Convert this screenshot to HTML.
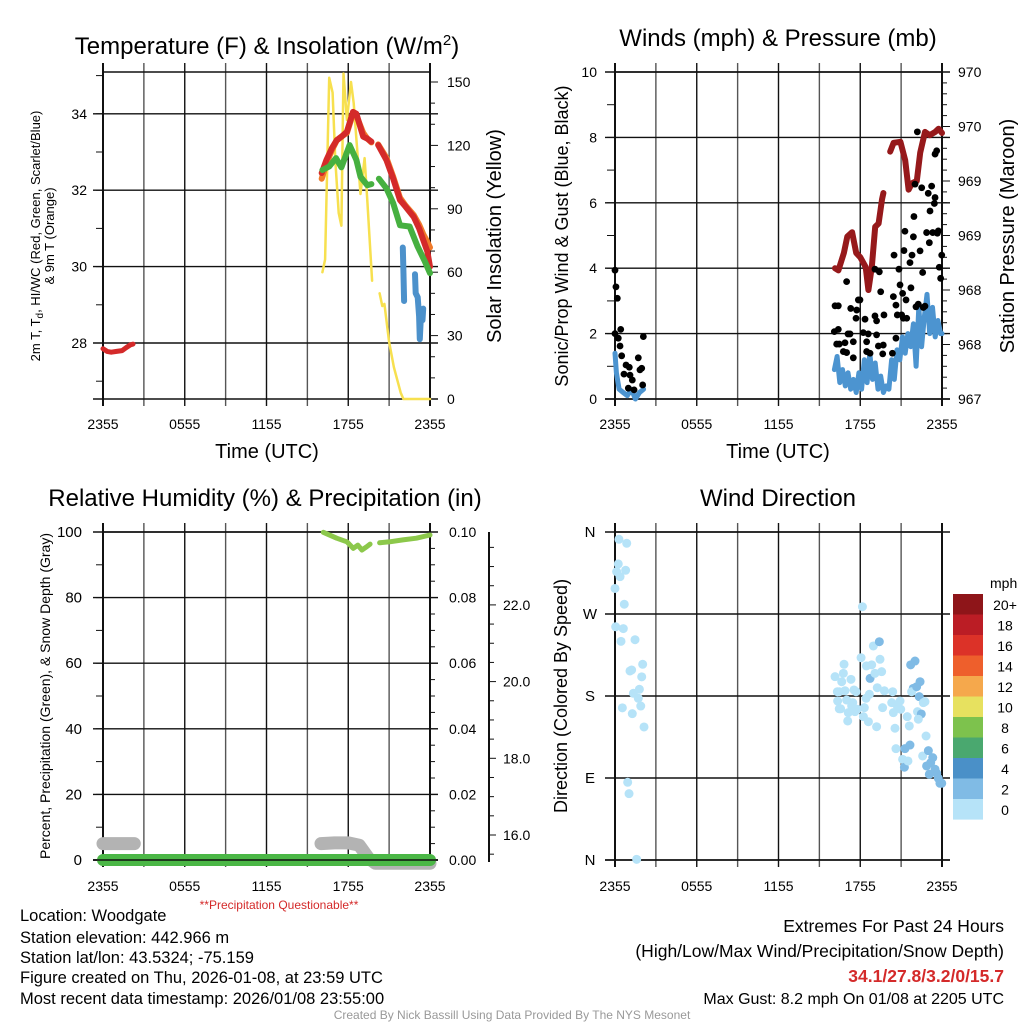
<!DOCTYPE html>
<html><head><meta charset="utf-8"><title>Station Meteogram</title>
<style>
html,body{margin:0;padding:0;background:#fff;}
svg{display:block;font-family:"Liberation Sans",sans-serif;}
</style></head>
<body>
<svg id="fig" width="1024" height="1024" viewBox="0 0 1024 1024" xmlns="http://www.w3.org/2000/svg">
<rect x="0" y="0" width="1024" height="1024" fill="#fff"/>
<!-- titles -->
<text x="267" y="54" font-size="24" text-anchor="middle">Temperature (F) &amp; Insolation (W/m<tspan dy="-9" font-size="15">2</tspan><tspan dy="9">)</tspan></text>
<text x="778" y="46" font-size="24" text-anchor="middle">Winds (mph) &amp; Pressure (mb)</text>
<text x="265" y="506" font-size="24" text-anchor="middle">Relative Humidity (%) &amp; Precipitation (in)</text>
<text x="778" y="506" font-size="24" text-anchor="middle">Wind Direction</text>
<!-- axis titles -->
<text x="267" y="458" font-size="20" text-anchor="middle">Time (UTC)</text>
<text x="778" y="458" font-size="20" text-anchor="middle">Time (UTC)</text>
<text transform="translate(40,236) rotate(-90)" font-size="13" text-anchor="middle">2m T, T<tspan dy="3" font-size="10">d</tspan><tspan dy="-3">, HI/WC (Red, Green, Scarlet/Blue)</tspan></text>
<text transform="translate(54,236) rotate(-90)" font-size="13" text-anchor="middle">&amp; 9m T (Orange)</text>
<text transform="translate(501,236) rotate(-90)" font-size="20" text-anchor="middle">Solar Insolation (Yellow)</text>
<text transform="translate(568,236) rotate(-90)" font-size="18" text-anchor="middle">Sonic/Prop Wind &amp; Gust (Blue, Black)</text>
<text transform="translate(1014,236) rotate(-90)" font-size="20" text-anchor="middle">Station Pressure (Maroon)</text>
<text transform="translate(50,696) rotate(-90)" font-size="14" text-anchor="middle">Percent, Precipitation (Green), &amp; Snow Depth (Gray)</text>
<text transform="translate(567,696) rotate(-90)" font-size="18" text-anchor="middle">Direction (Colored By Speed)</text>
<text x="279" y="909" font-size="12" fill="#d42a2a" text-anchor="middle">**Precipitation Questionable**</text>
<!-- footer -->
<g font-size="16.5">
<text x="20" y="921">Location: Woodgate</text>
<text x="20" y="943">Station elevation: 442.966 m</text>
<text x="20" y="963">Station lat/lon: 43.5324; -75.159</text>
<text x="20" y="983">Figure created on Thu, 2026-01-08, at 23:59 UTC</text>
<text x="20" y="1004">Most recent data timestamp: 2026/01/08 23:55:00</text>
</g>
<g font-size="17.5" text-anchor="end">
<text x="1004" y="932">Extremes For Past 24 Hours</text>
<text x="1004" y="957">(High/Low/Max Wind/Precipitation/Snow Depth)</text>
<text x="1004" y="982" fill="#d42a2a" font-weight="bold">34.1/27.8/3.2/0/15.7</text>
<text x="1004" y="1004" font-size="16">Max Gust: 8.2 mph On 01/08 at 2205 UTC</text>
</g>
<text x="512" y="1019" font-size="12" fill="#999" text-anchor="middle">Created By Nick Bassill Using Data Provided By The NYS Mesonet</text>
</svg>
<script>
// ---------- data ----------
var timeTickHours = [0, 6, 12, 18, 24];
var timeTickLabels = ["2355", "0555", "1155", "1755", "2355"];
var tempTicks = [28, 30, 32, 34];
var insolTicks = [0, 30, 60, 90, 120, 150];
var windTicks = [0, 2, 4, 6, 8, 10];
var pressTicks = [967, 967.5, 968, 968.5, 969, 969.5, 970];
var pressTickLabels = ["967", "968", "968", "969", "969", "970", "970"];
var rhTicks = [0, 20, 40, 60, 80, 100];
var precipTicks = [0, 0.02, 0.04, 0.06, 0.08, 0.10];
var precipTickLabels = ["0.00", "0.02", "0.04", "0.06", "0.08", "0.10"];
var snowTicks = [16, 18, 20, 22];
var snowTickLabels = ["16.0", "18.0", "20.0", "22.0"];
var dirTicks = [0, 90, 180, 270, 360];
var dirTickLabels = ["N", "E", "S", "W", "N"];

var tempRedEarlyH = [0, 0.3, 0.6, 1.0, 1.4, 1.7, 2.0, 2.2];
var tempRedEarly = [27.85, 27.78, 27.76, 27.78, 27.8, 27.88, 27.95, 27.97];
var tempRedH = [16.05, 16.4, 16.8, 17.15, 17.5, 17.9, 18.35, 18.6, 19.1, 19.4, 19.7, null, 20.2, 20.8, 21.3, 21.8, 22.2, 22.8, 23.2, 23.5, 23.8, 24];
var tempRed = [32.45, 32.79, 33.1, 33.31, 33.4, 33.53, 34.05, 34.0, 33.4, 33.35, 33.27, null, 33.18, 32.79, 32.3, 31.74, 31.57, 31.3, 31.0, 30.7, 30.4, 30.0];
var tempOrangeH = [16.05, 16.4, 16.8, 17.15, 17.5, 17.9, 18.35, 18.6, 19.1, 19.4, 19.7, null, 20.2, 20.8, 21.3, 21.8, 22.2, 22.8, 23.2, 23.5, 23.8, 24];
var tempOrange = [32.3, 32.7, 33.05, 33.3, 33.4, 33.5, 34.0, 33.95, 33.5, 33.35, 33.25, null, 33.2, 32.85, 32.35, 31.8, 31.6, 31.35, 31.1, 30.85, 30.65, 30.5];
var tempGreenH = [16.1, 16.6, 17.1, 17.5, 18.1, 18.6, 18.9, 19.4, 19.7, null, 20.25, 20.8, 21.3, 21.8, 22.5, 23.1, 23.6, 24];
var tempGreen = [32.53, 32.62, 32.84, 32.6, 33.18, 32.79, 32.35, 32.13, 32.16, null, 32.3, 32.05, 31.66, 31.08, 31.05, 30.52, 30.15, 29.83];
var tempBlueH = [22.0, 22.05, 22.1, null, 22.9, 22.95, 23.1, 23.2, 23.25, 23.35, 23.45, 23.5];
var tempBlue = [30.5, 29.9, 29.1, null, 29.8, 29.3, 29.2, 28.7, 28.1, 28.8, 28.6, 28.9];
var insolH = [16.1, 16.3, 16.6, 16.85, 17.05, 17.3, 17.5, 17.65, 17.9, 18.2, 18.4, 18.9, 19.2, 19.4, 19.75, null, 20.3, 20.5, 20.65, 21.0, 21.35, 21.85, 22.05, 24];
var insol = [60, 66, 152, 145, 113, 88, 82, 154, 132, 150, 140, 97, 114, 94, 56, null, 50, 44, 45, 27, 15, 3, 0, 0];

var windH = [0, 0.1, 0.3, 0.6, 0.9, 1.2, 1.5, 1.8, 2.1, null, 16.1, 16.3, 16.5, 16.7, 16.9, 17.1, 17.3, 17.5, 17.7, 17.9, 18.1, 18.3, 18.5, 18.7, 18.9, 19.1, 19.3, 19.5, 19.7, 19.9, 20.1, 20.3, 20.5, 20.7, 20.9, 21.1, 21.3, 21.5, 21.7, 21.9, 22.1, 22.3, 22.5, 22.7, 22.9, 23.1, 23.3, 23.5, 23.7, 23.9, 24];
var windSpd = [1.4, 0.8, 0.3, 0.2, 0.1, 0.3, 0.0, 0.2, 0.3, null, 0.9, 1.3, 0.5, 0.9, 0.4, 0.8, 0.3, 0.6, 0.2, 0.8, 0.3, 1.2, 0.5, 1.4, 0.6, 1.1, 0.3, 0.7, 0.2, 0.4, 0.3, 1.2, 0.6, 1.5, 1.2, 1.9, 1.4, 2.0, 1.6, 2.3, 1.0, 2.8, 1.6, 2.5, 3.2, 2.0, 2.8, 1.9, 2.4, 2.0, 2.0];
var gustH = [0, 0.07, 0.17, 0.0, 0.24, 0.42, 0.37, 0.49, 0.81, 0.66, 1.05, 1.1, 1.27, 1.4, 0.98, 1.71, 1.83, 1.96, 2.08, 2.03,
 16.15, 16.39, 16.10, 16.39, 16.27, 16.46, 17.0, 17.1, 17.25, 16.88, 17.3, 16.76, 17.0, 17.49, 17.69, 17.74, 17.86, 17.98, 17.49, 18.22, 18.35, 18.47, 18.59, 18.47, 18.72, 19.08, 19.2, 19.2, 19.08, 19.4, 19.33, 19.5, 19.69, 19.74, 19.65,
 20.36, 20.48, 20.43, 20.62, 20.62, 20.72, 20.84, 20.92, 21.04, 21.11, 21.16, 21.21, 21.28, 21.36, 21.41, 21.65, 21.72, 21.8, 21.9, 21.94, 22.02, 22.09, 22.19, 22.26, 22.39, 22.51, 22.58, 22.63, 22.75, 22.87, 22.99, 23.07, 23.12, 23.24, 23.32, 23.44, 23.49, 23.49, 23.61, 23.73, 23.8, 23.9, 23.98, 23.66];
var gust = [3.94, 3.43, 3.08, 2.0, 1.86, 2.13, 1.62, 1.32, 1.04, 0.76, 0.97, 0.73, 0.58, 0.28, 0.33, 1.26, 0.89, 0.94, 1.91, 0.43,
 2.85, 2.85, 2.06, 2.13, 1.68, 1.68, 3.59, 1.99, 1.99, 1.72, 2.77, 1.45, 1.42, 1.26, 2.47, 2.72, 3.03, 3.03, 1.75, 2.03, 2.44, 1.75, 1.99, 1.45, 1.4, 2.54, 1.96, 2.39, 3.97, 3.89, 1.62, 3.28, 1.65, 2.57, 1.38,
 1.4, 4.4, 3.13, 2.87, 1.86, 2.57, 3.97, 3.49, 2.57, 3.23, 2.47, 4.54, 5.13, 3.03, 2.47, 4.17, 3.4, 4.4, 4.96, 5.58, 6.57, 2.82, 8.17, 2.9, 4.53, 6.46, 3.87, 2.8, 2.84, 5.09, 6.29, 4.78, 5.75, 6.51, 5.09, 5.98, 6.16, 7.49, 7.59, 5.14, 4.03, 3.69, 4.4, 5.07];
var pressH = [16.15, 16.4, 16.8, 17.05, 17.4, 17.7, 18.0, 18.4, 18.6, 18.85, 19.1, 19.35, 19.6, 19.7, null, 20.2, 20.45, 20.95, 21.3, 21.55, 21.8, 22.15, 22.4, 22.75, 23.1, 23.5, 23.75, 24];
var press = [968.2, 968.18, 968.34, 968.49, 968.53, 968.34, 968.3, 968.21, 968.0, 968.21, 968.58, 968.61, 968.83, 968.89, null, 969.27, 969.35, 969.36, 969.19, 968.92, 968.98, 969.0, 969.26, 969.45, 969.42, 969.45, 969.48, 969.44];

var rhH = [16.17, 17.15, 17.9, 18.37, 18.7, 19.0, 19.35, 19.6, null, 20.3, 21.05, 22.0, 23.0, 24];
var rh = [99.9, 98.1, 97.0, 95.0, 96.0, 94.5, 95.5, 96.3, null, 96.7, 97.0, 97.6, 98.1, 99.1];
var snowH = [0, 2.3, null, 16.0, 17.0, 18.0, 18.8, 19.5, 20.0, 24];
var snowPct = [5, 5, null, 5, 5.2, 5.2, 4.5, 0.5, -1, -1];
var precipH = [0, 24];
var precip = [0, 0];

var dirH = [0.29, 0.86, 0.24, 0.12, 0.37, 0.78, 0, 0.68, 0.05, 0.61, 0.44, 1.47, 1.1, 1.22, 2.03, 1.96, 1.79, 1.35, 1.71, 0.54, 1.89, 1.27, 2.13, 0.93, 1.03, 1.59,
 16.15, 16.32, 16.46, 16.64, 16.76, 16.81, 16.88, 17.0, 16.34, 16.46, 16.56, 17.12, 17.08, 17.32, 17.45, 17.54, 17.69, 17.79, 17.37, 17.61, 18.06, 18.16, 18.23, 18.3, 18.43, 18.45, 18.6, 18.67, 18.72, 18.84, 18.96, 19.08, 19.2, 19.25, 19.4, 19.45, 19.57, 19.64, 19.77,
 20.31, 20.38, 20.43, 20.55, 20.62, 20.72, 20.92, 20.97, 21.11, 21.24, 21.28, 21.45, 21.5, 21.6, 21.65, 21.7, 21.89, 22.02, 21.77, 22.14, 22.39, 22.2, 22.48, 22.26, 22.33, 22.63, 22.75, 22.83, 22.58, 23.0, 22.87, 23.17, 23.32, 23.07, 23.49, 23.61, 23.73, 23.85, 23.98];
var dirDeg = [352, 347.6, 325, 316.5, 311, 318, 298, 280.7, 256, 254, 240, 241.8, 207.5, 208.6, 214.8, 201, 187.4, 183, 177.5, 167, 169, 160.6, 146, 85.3, 72.8, 0.7,
 201.2, 184.7, 184.7, 195.7, 204.9, 214.8, 185.8, 175.6, 174.5, 166, 166, 161.7, 152.6, 198.3, 172.7, 186.6, 184.7, 165.4, 169, 162.8, 222, 278, 157.3, 167.2, 177.5, 213, 151.8, 181.9, 199.3, 214.2, 234.9, 204.9, 146.3, 189.1, 239.6, 220.3, 206.7, 167.2, 185.7,
 172.7, 184.7, 161.7, 144.6, 122.2, 169, 174.5, 165.4, 110.5, 101.8, 122.2, 157.3, 108.7, 147.1, 126.2, 214.2, 188.4, 218.4, 184.7, 190.2, 195.7, 162.8, 160.3, 154.5, 179.3, 172.7, 173.8, 136.1, 114.2, 120, 103.2, 106.8, 112.3, 94.1, 99.6, 95.2, 89.7, 84.2, 84.2];
var dirSpd = [1,1,1,1,1,1,1,1,1,1,1,1,1,1,1,1,1,1,1,1,1,1,1,1,1,1,
 1,1,1,1,1,1,1,1,1,1,1,1,1,1,1,1,1,1,1,1,1,1,1,1,1,1,1,1,3.5,1,1,1,1,1,3.5,1,1,1,1,
 1,1,1,1,1,1,1,1,1,3,3,1,1,1,3,3,3,3,1,3,3,1,3,1,3,1,1,1,1,3,3,3,3,3,3,3,3,3,3];
var cbarLabels = ["20+", "18", "16", "14", "12", "10", "8", "6", "4", "2", "0"];
var cbarColors = ["#8e1519", "#bb1d25", "#dc3228", "#ee5f2c", "#f5a84c", "#e7e15f", "#7dc24d", "#4aa86f", "#4a90c8", "#80bbe5", "#b6e3f8"];

// ---------- helpers ----------
var NS = "http://www.w3.org/2000/svg";
var svg = document.getElementById("fig");
function mk(tag, attrs, parent) {
  var e = document.createElementNS(NS, tag);
  for (var k in attrs) e.setAttribute(k, attrs[k]);
  (parent || svg).appendChild(e);
  return e;
}
function grp(name) {
  var g = mk("g", {});
  
  
  return g;
}
function pathFrom(xs, ys, fx, fy) {
  var d = "", pen = false;
  for (var i = 0; i < xs.length; i++) {
    if (xs[i] === null || ys[i] === null) { pen = false; continue; }
    d += (pen ? "L" : "M") + fx(xs[i]).toFixed(1) + " " + fy(ys[i]).toFixed(1);
    pen = true;
  }
  return d;
}
function hx(left) { return function (h) { return left + h * 327 / 24; }; }

// ---------- scales ----------
var xA = hx(103), xB = hx(615);
function yT(t) { return 343 - (t - 28) * 38.2; }
function yI(v) { return 399 - v * 317 / 150; }
function yW(m) { return 399 - m * 32.7; }
function yP(p) { return 399 - (p - 967) * 109; }
function yR(r) { return 860 - r * 3.28; }
function yPr(p) { return 860 - p * 3280; }
function yS(s) { return 835 - (s - 16) * 38.35; }
function yD(d) { return 860 - d * 328 / 360; }

function frame(name, L, R, T, B, hLines) {
  var g = grp(name);
  for (var i = 0; i <= 8; i++) {
    var x = L + i * (R - L) / 8;
    var vl = mk("line", {x1: x, x2: x, y1: T - 9, y2: B + 7, stroke: (i % 2 ? "#555" : "#111"), "stroke-width": (i === 0 || i === 8) ? 2 : 1.4}, g);
    
    
  }
  hLines.forEach(function (y) {
    var hl = mk("line", {x1: L - 10, x2: R + 8, y1: y, y2: y, stroke: "#111", "stroke-width": 1.4}, g);
    
    
  });
  var tl = mk("line", {x1: L, x2: R, y1: T, y2: T, stroke: "#111", "stroke-width": 1.4}, g);
  
  
  var bl = mk("line", {x1: L - 10, x2: R + 8, y1: B, y2: B, stroke: "#111", "stroke-width": 1.4}, g);
  
  
}
function timeLabels(fx, y, name) {
  var g = grp(name);
  timeTickHours.forEach(function (h, i) {
    var t = mk("text", {x: fx(h), y: y, "font-size": 14, "text-anchor": "middle"}, g);
    t.textContent = timeTickLabels[i];
    
    
  });
}
function label(g, x, y, txt, anchor, size) {
  var t = mk("text", {x: x, y: y + 5, "font-size": size || 14, "text-anchor": anchor}, g);
  t.textContent = txt;
  
  
  return t;
}
function tick(g, x1, x2, y) {
  var l = mk("line", {x1: x1, x2: x2, y1: y, y2: y, stroke: "#111", "stroke-width": 1}, g);
  
  
}

// ---------- panel 1: temperature ----------
frame("temp-plot-frame", 103, 430, 72, 399, tempTicks.map(yT));
var gA = grp("temp-axis-ticks");
tempTicks.forEach(function (t) { label(gA, 87, yT(t), String(t), "end"); });
for (var t = 27; t <= 35; t++) tick(gA, 96, 103, yT(t));
for (var v = 0; v <= 150; v += 10) tick(gA, 430, (v % 30 === 0) ? 438 : 435, yI(v));
insolTicks.forEach(function (v) { label(gA, 447, yI(v), String(v), "start"); });
timeLabels(xA, 429, "temp-time-labels");

var gT = grp("temp-series");
function series(g, name, xs, ys, fx, fy, color, w) {
  var p = mk("path", {d: pathFrom(xs, ys, fx, fy), fill: "none", stroke: color, "stroke-width": w, "stroke-linecap": "round", "stroke-linejoin": "round"}, g);
  
  
}
series(gT, "insolation-line", insolH, insol, xA, yI, "#f7e04f", 2.5);
series(gT, "temp-9m-orange-line", tempOrangeH, tempOrange, xA, yT, "#f07a2a", 6);
series(gT, "temp-2m-red-early-line", tempRedEarlyH, tempRedEarly, xA, yT, "#d42a2a", 5);
series(gT, "temp-2m-red-line", tempRedH, tempRed, xA, yT, "#d42a2a", 6);
series(gT, "dewpoint-green-line", tempGreenH, tempGreen, xA, yT, "#46b040", 6);
series(gT, "windchill-blue-line", tempBlueH, tempBlue, xA, yT, "#4c91cb", 6);

// ---------- panel 2: winds ----------
frame("wind-plot-frame", 615, 942, 72, 399, windTicks.map(yW));
var gB = grp("wind-axis-ticks");
windTicks.forEach(function (m) { label(gB, 597, yW(m), String(m), "end"); });
for (var m = 0; m <= 10; m++) tick(gB, 607, 615, yW(m));
for (var k = 0; k <= 30; k++) tick(gB, 942, (k % 5 === 0) ? 950 : 947, yP(967 + k * 0.1));
pressTicks.forEach(function (p, i) { label(gB, 958, yP(p), pressTickLabels[i], "start"); });
timeLabels(xB, 429, "wind-time-labels");
var gW = grp("wind-series");
series(gW, "wind-speed-line", windH, windSpd, xB, yW, "#4c94d0", 5);
series(gW, "pressure-line", pressH, press, xB, yP, "#96191b", 6);
gustH.forEach(function (h, i) {
  var c = mk("circle", {cx: xB(h), cy: yW(gust[i]), r: 3.4, fill: "#000"}, gW);
  
  
});

// ---------- panel 3: humidity ----------
frame("humidity-plot-frame", 103, 430, 532, 860, rhTicks.map(yR));
var gC = grp("humidity-axis-ticks");
rhTicks.forEach(function (r) { label(gC, 82, yR(r), String(r), "end", 15); });
for (var r = 0; r <= 100; r += 10) tick(gC, 96, 103, yR(r));
for (var q = 0; q <= 20; q++) tick(gC, 430, (q % 4 === 0) ? 438 : 435, yPr(q * 0.005));
precipTicks.forEach(function (p, i) { label(gC, 449, yPr(p), precipTickLabels[i], "start"); });
var sl = mk("line", {x1: 489, x2: 489, y1: 532, y2: 862, stroke: "#111", "stroke-width": 2}, gC);


for (var s = 15.5; s <= 23.5; s += 0.5) tick(gC, 489, (s % 2 === 0) ? 496 : 494, yS(s));
snowTicks.forEach(function (s, i) { label(gC, 503, yS(s), snowTickLabels[i], "start"); });
timeLabels(xA, 891, "humidity-time-labels");
var gH = grp("humidity-series");
series(gH, "snow-depth-line", snowH, snowPct, xA, yR, "#b3b3b3", 13);
series(gH, "precipitation-line", precipH, precip, xA, yPr, "#4bb746", 12);
series(gH, "relative-humidity-line", rhH, rh, xA, yR, "#8cc84b", 5);
var bl3 = mk("line", {x1: 93, x2: 438, y1: 860, y2: 860, stroke: "#111", "stroke-width": 1.4}, gH);



// ---------- panel 4: wind direction ----------
frame("direction-plot-frame", 615, 942, 532, 860, dirTicks.map(yD));
var gD = grp("direction-axis-ticks");
dirTicks.forEach(function (d, i) { label(gD, 590, yD(d), dirTickLabels[i], "middle", 15); });
timeLabels(xB, 891, "direction-time-labels");
function spdColor(s) {
  var idx = Math.min(10, Math.floor(s / 2));
  return cbarColors[10 - idx];
}
var gP = grp("direction-points");
dirH.forEach(function (h, i) {
  var c = mk("circle", {cx: xB(h), cy: yD(dirDeg[i]), r: 4.5, fill: spdColor(dirSpd[i])}, gP);
  
  
});
var gL = grp("speed-colorbar");
var mt = mk("text", {x: 990, y: 588, "font-size": 14}, gL);
mt.textContent = "mph";


cbarColors.forEach(function (col, i) {
  var y0 = 594 + i * 20.5;
  var rc = mk("rect", {x: 953, y: y0, width: 30, height: 20.6, fill: col}, gL);
  
  
  var tx = mk("text", {x: 1005, y: y0 + 16, "font-size": 14, "text-anchor": "middle"}, gL);
  tx.textContent = cbarLabels[i];
  
  
});
</script>
</body></html>
